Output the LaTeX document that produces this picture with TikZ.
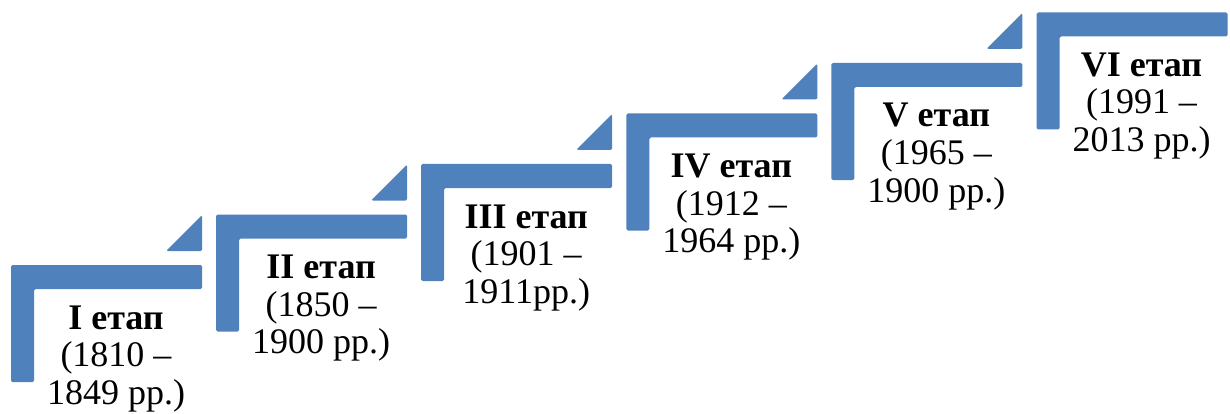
\documentclass[tikz,border=0pt]{standalone}
\usepackage{fontspec}
\setmainfont{Liberation Serif}
\usetikzlibrary{calc}
\definecolor{stepblue}{HTML}{4F81BD}
\tikzset{
  stepshape/.style={fill=stepblue, draw=none, rounded corners=1.5pt},
  steplabel/.style={anchor=base, align=center, inner sep=0pt, font=\fontsize{36}{37.5}\selectfont, text=black}
}
\begin{document}
\begin{tikzpicture}[x=1pt,y=-1pt]
\useasboundingbox (0,0) rectangle (1230,414);
\foreach \k/\ta/\tb/\tc [count=\i] in {0/I етап/(1810 –/1849 рр.),
  1/II етап/(1850 –/1900 рр.),
  2/III етап/(1901 –/1911рр.),
  3/IV етап/(1912 –/1964 рр.),
  4/V етап/(1965 –/1900 рр.),
  5/VI етап/(1991 –/2013 рр.)}{
  \pgfmathsetmacro{\xo}{11+205.1*\k}
  \pgfmathsetmacro{\yo}{265-50.5*\k}
  \coordinate (o\i) at (\xo,\yo);
  \fill[stepshape] (o\i) -- ++(191,0) -- ++(0,24) -- ++(-168,0) -- ++(0,93) -- ++(-23,0) -- cycle;
  \ifnum\k<5
    \fill[stepshape] ($(o\i)+(191,-14)$) -- ++(0,-36) -- ++(-36,36) -- cycle;
  \fi
  \node[steplabel] (t\i) at ($(o\i)+(105,139)$) {\textbf{\ta}\\\tb\\\tc};
}
\end{tikzpicture}
\end{document}
